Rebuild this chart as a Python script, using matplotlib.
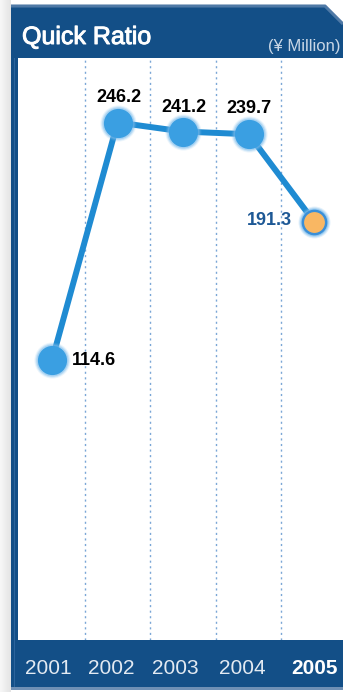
import numpy as np
import matplotlib
matplotlib.use("Agg")
import matplotlib.pyplot as plt
import matplotlib.transforms as mtransforms
import matplotlib.patheffects as pe
from matplotlib.patches import Polygon, Rectangle

plt.rcParams['font.family'] = ['Liberation Sans', 'DejaVu Sans']

# Data
years = ["2001", "2002", "2003", "2004", "2005"]
quick_ratio = [114.6, 246.2, 241.2, 239.7, 191.3]

W, H = 343, 692
DPI = 100
NAVY = "#134f87"
LINE_BLUE = "#1f8bd2"
DOT_BLUE = "#3a9fe2"
GLOW_BLUE = "#7cbcec"
ORANGE = "#f9b763"

fig = plt.figure(figsize=(W / DPI, H / DPI), dpi=DPI)

# Frame drawn in pixel coordinates
bg = fig.add_axes([0, 0, 1, 1])
bg.set_xlim(0, W)
bg.set_ylim(H, 0)
bg.axis("off")

# soft grey shadow on the left
grad = np.linspace(0.97, 0.89, 64).reshape(1, -1)
bg.imshow(grad, cmap="gray", vmin=0, vmax=1, extent=(0, 11, H, 0), aspect="auto", zorder=0)

# header with bevelled top-right corner
header = Polygon([(11, 5), (325, 5), (343, 23), (343, 58), (11, 58)],
                 closed=True, facecolor=NAVY, edgecolor="none", zorder=1)
bg.add_patch(header)
bg.plot([11, 325, 343], [6, 6, 24], color="#4f79a6", lw=2.2, solid_capstyle="butt", zorder=2)

# left frame bar
bg.add_patch(Rectangle((11, 5), 7, 685, facecolor=NAVY, edgecolor="none", zorder=1))
bg.add_patch(Rectangle((13.5, 58), 1.2, 630, facecolor="#2c649c", edgecolor="none", zorder=2))

# bottom band
bg.add_patch(Rectangle((11, 640), W - 11, 48, facecolor=NAVY, edgecolor="none", zorder=1))
bg.add_patch(Rectangle((11, 687), W - 11, 2.5, facecolor="#6f90b5", edgecolor="none", zorder=2))

bg.text(22, 37, "Quick Ratio", color="white", fontsize=18, va="center", ha="left", zorder=3,
        path_effects=[pe.withStroke(linewidth=0.7, foreground="white")])
bg.text(341, 47, "(¥ Million)", color="#c9d7e6", fontsize=12, va="center", ha="right", zorder=3)

# Plot area
left, right, top, bottom = 18, 343, 58, 640
ax = fig.add_axes([left / W, 1 - bottom / H, (right - left) / W, (bottom - top) / H])
ax.set_facecolor("white")
x = np.arange(len(years))
ax.set_xlim(-0.519, 4.44)
ax.set_ylim(-40.2, 281.9)
for s in ax.spines.values():
    s.set_visible(False)
ax.set_yticks([])

for i in range(len(years) - 1):
    ax.axvline(i + 0.5, color="#7aa6d6", lw=1.0, ls=(0, (1.5, 2.5)), zorder=1)

ax.plot(x, quick_ratio, color=LINE_BLUE, lw=4.3, solid_capstyle="round", zorder=2)

# blue markers with a soft glow
xb, yb = x[:-1], quick_ratio[:-1]
for ms, a in [(26, 0.15), (24.5, 0.28), (23, 0.45)]:
    ax.plot(xb, yb, "o", ms=ms, color=GLOW_BLUE, mec="none", alpha=a, zorder=3)
ax.plot(xb, yb, "o", ms=21, color=DOT_BLUE, mec="none", zorder=4)

# highlighted latest year
xo, yo = x[-1:], quick_ratio[-1:]
for ms, a in [(23, 0.2), (21.5, 0.35), (20, 0.6)]:
    ax.plot(xo, yo, "o", ms=ms, color=GLOW_BLUE, mec="none", alpha=a, zorder=3)
ax.plot(xo, yo, "o", ms=18.5, color="#3a8fd8", mec="none", zorder=4)
ax.plot(xo, yo, "o", ms=15, color=ORANGE, mec="none", zorder=5)

# value labels
offsets = [(20, 0, "left", "center", "black"),
           (1, 25, "center", "center", "black"),
           (1, 24, "center", "center", "black"),
           (0, 26, "center", "center", "black"),
           (-22, 1, "right", "center", "#1d5895")]
for xi, v, (dx, dy, ha, va, c) in zip(x, quick_ratio, offsets):
    ax.annotate(f"{v:.1f}", (xi, v), xytext=(dx, dy), textcoords="offset pixels",
                ha=ha, va=va, fontsize=13, fontweight="bold", color=c, zorder=6)

ax.set_xticks(x)
ax.set_xticklabels(years)
ax.tick_params(axis="x", length=0, pad=13.5, labelsize=15, labelcolor="#e3eaf2")
labels = ax.get_xticklabels()
labels[-1].set_fontweight("bold")
labels[-1].set_color("white")
for lab, shift in zip(labels, [-4, -6, -8, -6, 0]):
    lab.set_transform(lab.get_transform() +
                      mtransforms.ScaledTranslation(shift / DPI, 0, fig.dpi_scale_trans))

fig.savefig("out.png", dpi=DPI)
